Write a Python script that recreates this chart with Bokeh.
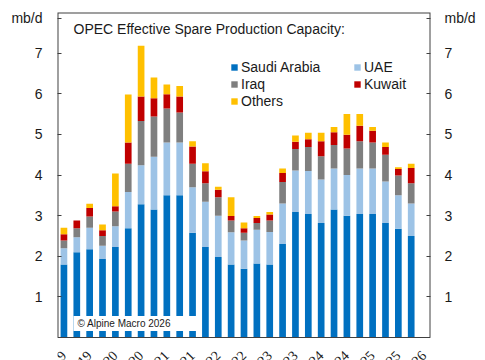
import math
from bokeh.plotting import figure
from bokeh.models import (ColumnDataSource, Range1d, LinearAxis, FixedTicker,
                          Label, LabelSet, Legend, LegendItem, Span)
from bokeh.embed import file_html
from bokeh.resources import INLINE

# ---- data (mb/d), quarterly 2019 Q1 .. 2025 Q4 ----
quarter_index = list(range(28))
saudi  = [1.80, 2.10, 2.17, 1.93, 2.23, 2.69, 3.28, 3.15, 3.50, 3.50, 2.58, 2.23, 1.98, 1.80,
          1.69, 1.82, 1.80, 2.30, 3.09, 3.04, 2.82, 3.15, 3.00, 3.04, 3.04, 2.82, 2.68, 2.50]
uae    = [0.40, 0.37, 0.53, 0.33, 0.51, 0.89, 0.96, 1.30, 1.30, 1.30, 1.12, 1.11, 1.02, 0.79,
          0.70, 0.83, 0.80, 1.00, 1.02, 1.06, 1.07, 1.01, 1.00, 1.12, 1.12, 1.02, 0.82, 0.80]
iraq   = [0.19, 0.22, 0.28, 0.24, 0.36, 0.70, 1.09, 0.99, 0.84, 0.74, 0.58, 0.46, 0.45, 0.29,
          0.19, 0.17, 0.28, 0.53, 0.53, 0.59, 0.57, 0.58, 0.65, 0.67, 0.64, 0.66, 0.49, 0.50]
kuwait = [0.15, 0.19, 0.21, 0.14, 0.13, 0.52, 0.60, 0.45, 0.35, 0.39, 0.42, 0.29, 0.19, 0.11,
          0.11, 0.12, 0.15, 0.22, 0.18, 0.19, 0.37, 0.31, 0.34, 0.38, 0.29, 0.19, 0.16, 0.37]
others = [0.16, 0.00, 0.10, 0.14, 0.81, 1.18, 1.25, 0.51, 0.24, 0.26, 0.13, 0.20, 0.07, 0.46,
          0.14, 0.05, 0.06, 0.11, 0.15, 0.16, 0.21, 0.13, 0.51, 0.29, 0.09, 0.11, 0.04, 0.11]

series_names = ["Saudi Arabia", "UAE", "Iraq", "Kuwait", "Others"]
series_colors = ["#0070C0", "#9DC3E6", "#7F7F7F", "#C00000", "#FFC000"]

tick_positions = list(range(0, 29, 2))
tick_labels = ["Jan-19", "Jul-19", "Jan-20", "Jul-20", "Jan-21", "Jul-21", "Jan-22", "Jul-22",
               "Jan-23", "Jul-23", "Jan-24", "Jul-24", "Jan-25", "Jul-25", "Jan-26"]
y_ticks = [1, 2, 3, 4, 5, 6, 7]
unit_label = "mb/d"
unit_pos = 7.86          # where the unit text sits on the value scale

X_LO, X_HI = -0.5, 28.5
Y_TOP = 8
Y_BOTTOM_VIEW = -0.566   # room below zero for the rotated date labels

FONT = "Liberation Sans"
TXT = "#1a1a1a"
FRAME = "#404040"

src = ColumnDataSource(dict(x=quarter_index, saudi=saudi, uae=uae, iraq=iraq,
                            kuwait=kuwait, others=others))

p = figure(width=485, height=360, output_backend="svg", toolbar_location=None,
           x_range=Range1d(X_LO, X_HI), y_range=Range1d(Y_BOTTOM_VIEW, Y_TOP),
           x_axis_location=None, min_border_left=57, min_border_right=55,
           min_border_top=12, min_border_bottom=0)
p.xgrid.visible = False
p.ygrid.visible = False
p.outline_line_color = None
p.background_fill_color = "white"
p.border_fill_color = "white"

renderers = p.vbar_stack(["saudi", "uae", "iraq", "kuwait", "others"], x="x", width=0.52,
                         source=src, color=series_colors, line_width=0)

# plot box: left, top, right edges (half of the 2px line is clipped at frame edge) + zero line
p.line(x=[X_LO, X_LO, X_HI, X_HI], y=[0, Y_TOP, Y_TOP, 0], line_color=FRAME, line_width=2)
p.add_layout(Span(location=0, dimension="width", line_color=FRAME, line_width=1))

# y axes (left + right), inward ticks
def style_axis(ax, standoff):
    ax.ticker = FixedTicker(ticks=y_ticks + [unit_pos])
    ax.major_label_overrides = {unit_pos: unit_label}
    ax.major_tick_in = 4
    ax.major_tick_out = 0
    ax.minor_tick_in = 0
    ax.minor_tick_out = 0
    ax.axis_line_color = None
    ax.major_tick_line_color = FRAME
    ax.major_label_text_font = FONT
    ax.major_label_text_font_size = "14px"
    ax.major_label_text_color = TXT
    ax.major_label_standoff = standoff

style_axis(p.yaxis[0], 15)
right_axis = LinearAxis()
style_axis(right_axis, 14)
p.add_layout(right_axis, "right")

# x tick labels (rotated), below the zero line
tick_src = ColumnDataSource(dict(x=tick_positions, text=tick_labels))
p.add_layout(LabelSet(x="x", y=-0.39, text="text", source=tick_src,
                      angle=math.pi / 4, text_align="right", text_baseline="middle",
                      text_font=FONT, text_font_size="14px", text_color=TXT))

# title inside the frame
p.add_layout(Label(x=16, y=332, x_units="screen", y_units="screen",
                   text="OPEC Effective Spare Production Capacity:", text_font=FONT,
                   text_font_size="14px", text_color=TXT, text_baseline="middle"))

# copyright
p.add_layout(Label(x=16, y=37, x_units="screen", y_units="screen", text="© Alpine Macro 2026",
                   text_font=FONT, text_font_size="10px", text_color=TXT,
                   text_baseline="middle", background_fill_color="white",
                   padding=dict(left=4, right=27, top=2, bottom=2)))

# legend in two columns
def make_legend(idx, loc):
    items = [LegendItem(label=series_names[i], renderers=[renderers[i]]) for i in idx]
    return Legend(items=items, location=loc, orientation="vertical", padding=0, margin=0,
                  spacing=0, border_line_color=None, background_fill_alpha=0,
                  glyph_width=8, glyph_height=8, label_standoff=3, label_height=17,
                  label_text_font=FONT, label_text_font_size="14px", label_text_color=TXT)

p.add_layout(make_legend([0, 2, 4], (173, 251)))
p.add_layout(make_legend([1, 3], (296, 268)))

open("out.html", "w").write(file_html(p, INLINE))
